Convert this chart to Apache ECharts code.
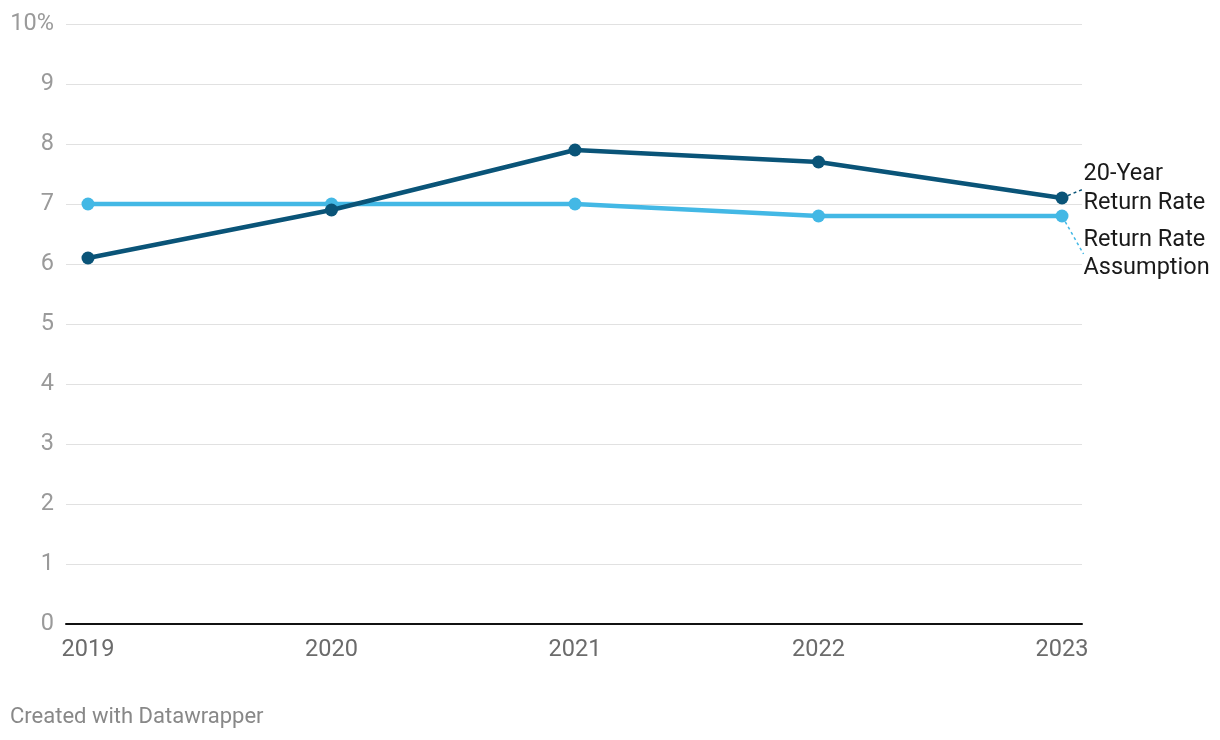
<!DOCTYPE html>
<html>
<head>
<meta charset="utf-8">
<script src="https://cdn.jsdelivr.net/npm/echarts@6/dist/echarts.min.js"></script>
<style>
html,body{margin:0;padding:0;background:#fff;}
#chart{width:1220px;height:740px;}
</style>
</head>
<body>
<div id="chart"></div>
<script>
const years = [2019, 2020, 2021, 2022, 2023];
const returnRate20 = [6.1, 6.9, 7.9, 7.7, 7.1];
const assumption = [7.0, 7.0, 7.0, 6.8, 6.8];
const yTicks = [0, 1, 2, 3, 4, 5, 6, 7, 8, 9, 10];
const seriesNames = ['20-Year\nReturn Rate', 'Return Rate\nAssumption'];

const darkColor = '#0a5478';
const lightColor = '#43b8e5';

function buildData(vals, labelCfg) {
  return vals.map((v, i) => {
    const item = { value: [years[i], v] };
    if (i === vals.length - 1) item.label = labelCfg;
    return item;
  });
}

const chart = echarts.init(document.getElementById('chart'));
const baseFont = 'Roboto, "Noto Sans", sans-serif';

chart.setOption({
  animation: false,
  backgroundColor: '#fff',
  textStyle: { fontFamily: baseFont },
  grid: { left: 66, right: 138, top: 24, bottom: 116, containLabel: false },
  xAxis: {
    type: 'value',
    min: 2018.9097,
    max: 2023.0821,
    axisLine: { show: true, onZero: true, lineStyle: { color: '#111', width: 2 } },
    axisTick: { show: false },
    splitLine: { show: false },
    axisLabel: {
      customValues: years,
      color: '#6b6b6b',
      fontSize: 23.5,
      margin: 14,
      fontFamily: baseFont,
      formatter: v => String(v)
    }
  },
  yAxis: {
    type: 'value',
    min: 0,
    max: 10,
    interval: 1,
    axisLine: { show: false },
    axisTick: { show: false },
    splitLine: { show: true, lineStyle: { color: '#e1e1e1', width: 1 } },
    axisLabel: {
      color: '#9a9a9a',
      fontSize: 23.5,
      margin: 12,
      fontFamily: baseFont,
      formatter: v => (v === 10 ? v + '%' : String(v))
    }
  },
  series: [
    {
      name: seriesNames[1],
      type: 'line',
      data: buildData(assumption, {
        show: true, position: 'right', distance: 15,
        formatter: seriesNames[1], color: '#1a1a1a', fontSize: 23.5, lineHeight: 28,
        fontFamily: baseFont, align: 'left'
      }),
      symbol: 'circle',
      symbolSize: 13,
      lineStyle: { color: lightColor, width: 4.5 },
      itemStyle: { color: lightColor },
      label: { show: false },
      labelLayout: { dy: 38 },
      labelLine: { show: true, lineStyle: { color: lightColor, width: 1.5, type: [3, 3] } },
      z: 2
    },
    {
      name: seriesNames[0],
      type: 'line',
      data: buildData(returnRate20, {
        show: true, position: 'right', distance: 15,
        formatter: seriesNames[0], color: '#1a1a1a', fontSize: 23.5, lineHeight: 29,
        fontFamily: baseFont, align: 'left'
      }),
      symbol: 'circle',
      symbolSize: 13,
      lineStyle: { color: darkColor, width: 4.5 },
      itemStyle: { color: darkColor },
      label: { show: false },
      labelLayout: { dy: -9 },
      labelLine: { show: true, lineStyle: { color: darkColor, width: 1.5, type: [3, 3] } },
      z: 3
    }
  ],
  graphic: [
    {
      type: 'text',
      left: 10,
      top: 706,
      style: { text: 'Created with Datawrapper', fill: '#888', fontSize: 22, fontFamily: baseFont }
    }
  ]
});
</script>
</body>
</html>
